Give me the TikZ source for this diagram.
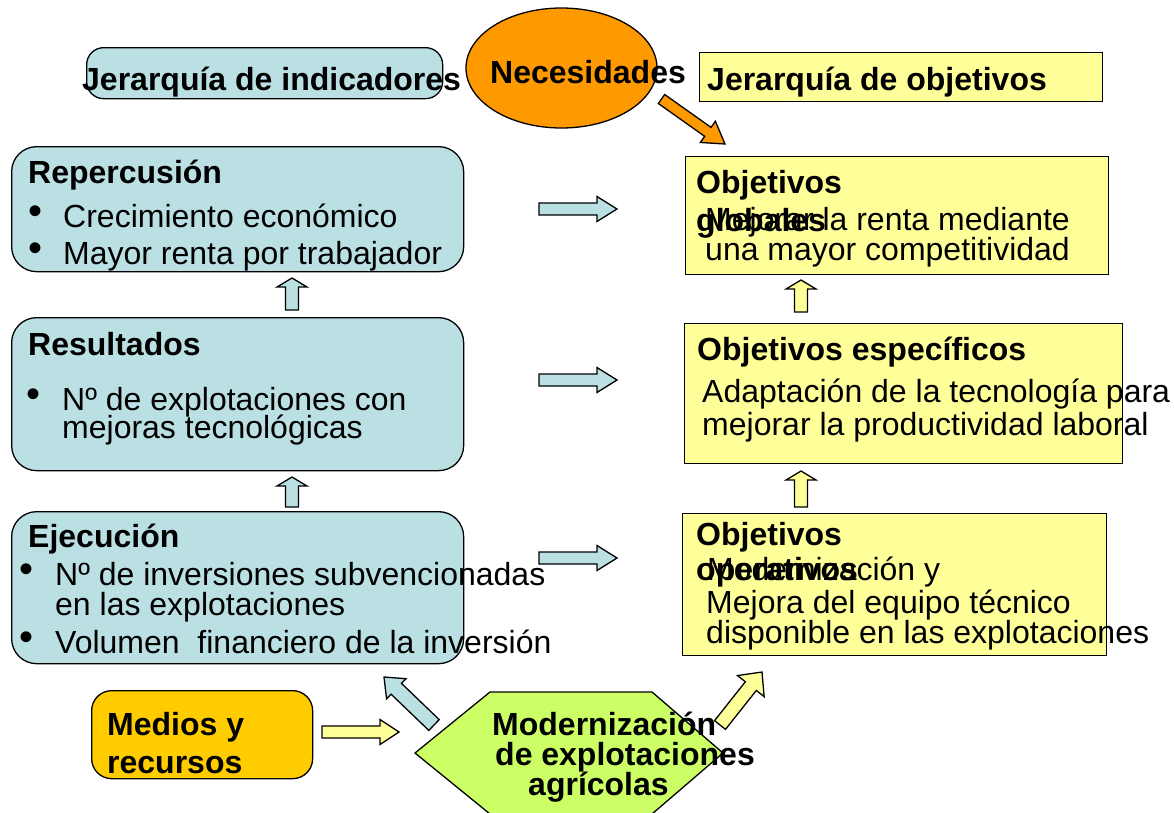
\documentclass[tikz,border=0pt]{standalone}
\usepackage{fontspec}
\setmainfont{Liberation Sans}
\usetikzlibrary{calc}
\usetikzlibrary{shapes.geometric}

\definecolor{azul}{HTML}{BBE0E3}
\definecolor{amarillo}{HTML}{FFFF99}
\definecolor{naranja}{HTML}{FF9900}
\definecolor{oro}{HTML}{FFCC00}
\definecolor{verde}{HTML}{CCFF66}

% block arrow: colour, tail, tip, shaft half width, head half width, head length
\newcommand{\flecha}[6]{%
  \coordinate (fb) at ($(#3)!#6!(#2)$);
  \draw[line width=1.3pt, fill=#1, line join=miter]
    ($(#2)!#4!90:(#3)$) -- ($(fb)!#4!-90:(#2)$) -- ($(fb)!#5!-90:(#2)$) -- (#3)
    -- ($(fb)!#5!90:(#2)$) -- ($(fb)!#4!90:(#2)$) -- ($(#2)!#4!-90:(#3)$) -- cycle;
}

\begin{document}
\begin{tikzpicture}[x=1pt, y=-1pt,
    caja/.style={draw, line width=1.3pt, inner sep=0pt, anchor=north west},
    txt/.style={anchor=base west, inner sep=0pt, font=\fontsize{32}{29}\selectfont},
    tit/.style={txt, font=\fontsize{32}{29}\selectfont\bfseries},
    bul/.style={txt, font=\fontsize{40}{40}\selectfont, yshift=3pt}]
  \useasboundingbox (0,0) rectangle (1174,812);

  \node[caja, fill=azul, rounded corners=17pt, minimum width=356pt, minimum height=51pt] (jind) at (86,47) {};
  \node[caja, fill=naranja, ellipse, anchor=center, minimum width=191pt, minimum height=120pt] (nec) at (561.5,68) {};
  \node[caja, fill=amarillo, minimum width=403pt, minimum height=49pt] (jobj) at (699,52) {};
  \node[caja, fill=azul, rounded corners=25pt, minimum width=452pt, minimum height=125pt] (rep) at (11,146) {};
  \node[caja, fill=azul, rounded corners=25pt, minimum width=452pt, minimum height=153pt] (res) at (11,317) {};
  \node[caja, fill=azul, rounded corners=25pt, minimum width=452pt, minimum height=152pt] (eje) at (11,511) {};
  \node[caja, fill=oro, rounded corners=20pt, minimum width=221pt, minimum height=88pt] (med) at (91,690) {};
  \node[caja, fill=amarillo, minimum width=423pt, minimum height=118pt] (glob) at (685,156) {};
  \node[caja, fill=amarillo, minimum width=438pt, minimum height=140pt] (esp) at (684,323) {};
  \node[caja, fill=amarillo, minimum width=424pt, minimum height=142pt] (oper) at (682,513) {};
  \draw[line width=1.3pt, fill=verde] (415,753) -- (490,692) -- (652,692) -- (723,753)
    -- (652,814) -- (490,814) -- cycle;

  \coordinate (nec-a) at (661.5,99);   \coordinate (nec-b) at (725,144);
  \coordinate (rep-a) at (539,209);    \coordinate (rep-b) at (617,209);
  \coordinate (res-a) at (539,380);    \coordinate (res-b) at (617,380);
  \coordinate (eje-a) at (539,558);    \coordinate (eje-b) at (617,558);
  \coordinate (res-u) at (292,310);    \coordinate (rep-d) at (292,278);
  \coordinate (eje-u) at (292,507);    \coordinate (res-d) at (292,477);
  \coordinate (esp-u) at (801,312);    \coordinate (glob-d) at (801,280);
  \coordinate (oper-u) at (801,507);   \coordinate (esp-d) at (801,471);
  \coordinate (med-a) at (322,732);    \coordinate (mod-w) at (399,732);
  \coordinate (mod-nw) at (434,725);   \coordinate (eje-d) at (384,677);
  \coordinate (mod-ne) at (720,725);   \coordinate (oper-d) at (762,672);

  \flecha{naranja}{nec-a}{nec-b}{5.5pt}{13pt}{21pt}
  \flecha{azul}{rep-a}{rep-b}{6pt}{12.5pt}{20pt}
  \flecha{azul}{res-a}{res-b}{6pt}{12.5pt}{20pt}
  \flecha{azul}{eje-a}{eje-b}{6pt}{12.5pt}{20pt}
  \flecha{azul}{res-u}{rep-d}{6.5pt}{15pt}{9pt}
  \flecha{azul}{eje-u}{res-d}{6.5pt}{15pt}{9pt}
  \flecha{amarillo}{esp-u}{glob-d}{6.5pt}{15pt}{9pt}
  \flecha{amarillo}{oper-u}{esp-d}{6.5pt}{15pt}{9pt}
  \flecha{amarillo}{med-a}{mod-w}{6pt}{12.5pt}{19pt}
  \flecha{azul}{mod-nw}{eje-d}{7.5pt}{14pt}{17pt}
  \flecha{amarillo}{mod-ne}{oper-d}{7pt}{17pt}{18pt}

  \node[tit] (jind-t) at (82,90) {Jerarquía de indicadores};
  \node[tit] (nec-t) at (490,83) {Necesidades};
  \node[tit] (jobj-t) at (707,90) {Jerarquía de objetivos};

  \node[tit] (rep-t) at (28,183) {Repercusión};
  \node[bul] (rep-b1) at (28,227) {•};
  \node[txt] (rep-1) at (63,227) {Crecimiento económico};
  \node[bul] (rep-b2) at (28,264) {•};
  \node[txt] (rep-2) at (63,264) {Mayor renta por trabajador};

  \node[tit] (res-t) at (28,355) {Resultados};
  \node[bul] (res-b1) at (26,410) {•};
  \node[txt] (res-1) at (62,410) {Nº de explotaciones con};
  \node[txt] (res-2) at (62,438) {mejoras tecnológicas};

  \node[tit] (eje-t) at (28,547) {Ejecución};
  \node[bul] (eje-b1) at (19,585) {•};
  \node[txt] (eje-1) at (55,585) {Nº de inversiones subvencionadas};
  \node[txt] (eje-2) at (55,615) {en las explotaciones};
  \node[bul] (eje-b2) at (19,653) {•};
  \node[txt] (eje-3) at (55,653) {Volumen\ \ financiero de la inversión};

  \node[tit] (med-1) at (107,735) {Medios y};
  \node[tit] (med-2) at (107,773) {recursos};

  \node[tit] (mod-1) at (492,735) {Modernización};
  \node[tit] (mod-2) at (495,765) {de explotaciones};
  \node[tit] (mod-3) at (528,795) {agrícolas};

  \node[tit] (glob-t1) at (696,193) {Objetivos};
  \node[tit] (glob-t2) at (696,231) {globales};
  \node[txt] (glob-1) at (705,230) {Mejorar la renta mediante};
  \node[txt] (glob-2) at (705,260) {una mayor competitividad};

  \node[tit] (esp-t) at (697,360) {Objetivos específicos};
  \node[txt] (esp-1) at (702,402) {Adaptación de la tecnología para};
  \node[txt] (esp-2) at (702,435) {mejorar la productividad laboral};

  \node[tit] (oper-t1) at (696,545) {Objetivos};
  \node[tit] (oper-t2) at (696,580) {operativos};
  \node[txt] (oper-1) at (707,580) {Modernización y};
  \node[txt] (oper-2) at (706,613) {Mejora del equipo técnico};
  \node[txt] (oper-3) at (706,643) {disponible en las explotaciones};
\end{tikzpicture}
\end{document}
